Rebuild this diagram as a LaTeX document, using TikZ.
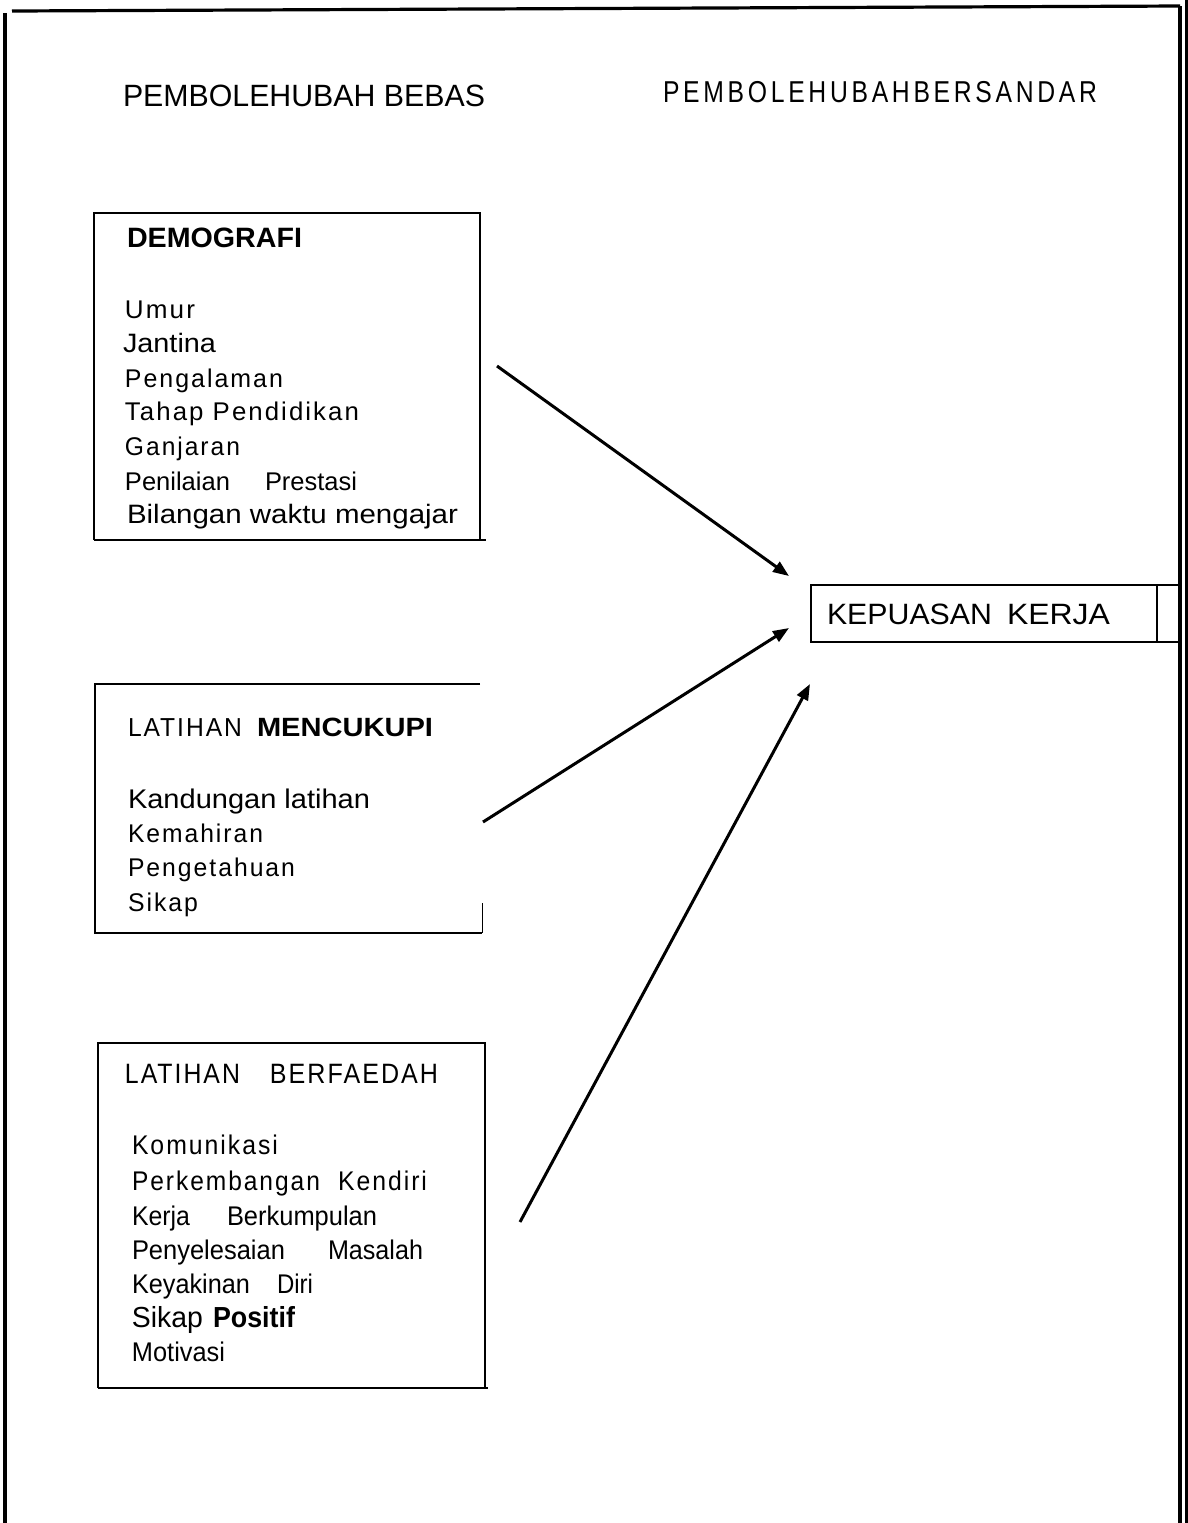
\documentclass[tikz,border=0pt]{standalone}
\usepackage{fontspec}
\usepackage{graphicx}
\setmainfont{Liberation Sans}
\newfontfamily\lsfont{Liberation Sans}[LetterSpace=8]
\newfontfamily\lsfontB{Liberation Sans}[LetterSpace=15]
\usetikzlibrary{arrows.meta}
\newlength\pxu
\setlength\pxu{0.5pt}
\newcommand\fw[2]{\resizebox{#1\pxu}{\height}{#2}}
\newcommand\fs[1]{\fontsize{#1}{#1}\selectfont}
\tikzset{
  txt/.style={anchor=base west, inner sep=0pt, outer sep=0pt},
  border/.style={line width=1.6pt},
  boxline/.style={line width=1.15pt},
  conn/.style={line width=1.5pt, -{Triangle[length=8pt,width=6pt]}}
}
\begin{document}
\begin{tikzpicture}[x=0.5pt,y=-0.5pt]
\useasboundingbox (0,0) rectangle (1188,1523);
% page border
\draw[border] (12,11) -- (1180,6);
\draw[border] (5,13) -- (5,1523);
\draw[border] (1180,6) -- (1180,1523);
\draw[line width=1.2pt] (1186.5,0) -- (1186.5,1523);

% headers
\node[txt] (h1) at (123,106) {\fs{15.4}\fw{362}{PEMBOLEHUBAH BEBAS}};
\node[txt] (h2) at (663,102) {\fs{15.1}\fw{434}{\lsfontB PEMBOLEHUBAHBERSANDAR}};

% box 1
\draw[boxline] (94,540) -- (94,213) -- (480,213) -- (480,540);
\draw[boxline] (94,540) -- (486,540);
\node[txt] (d0) at (127,247) {\fs{14}\bfseries\fw{175}{DEMOGRAFI}};
\node[txt] (d1) at (125,318) {\fs{12.8}\fw{70}{\lsfont Umur}};
\node[txt] (d2) at (123,352) {\fs{13.3}\fw{93}{Jantina}};
\node[txt] (d3) at (125,387) {\fs{12.8}\fw{158}{\lsfont Pengalaman}};
\node[txt] (d4) at (125,420) {\fs{12.8}\fw{234}{\lsfont Tahap Pendidikan}};
\node[txt] (d5) at (125,455) {\fs{12.8}\fw{115}{\lsfont Ganjaran}};
\node[txt] (d6) at (125,490) {\fs{12.8}\fw{105}{Penilaian}\hspace{35\pxu}\fw{92}{Prestasi}};
\node[txt] (d7) at (127,523) {\fs{13.3}\fw{331}{Bilangan waktu mengajar}};

% box 2
\draw[boxline] (480,684) -- (95,684) -- (95,933) -- (482,933);
\draw[line width=0.5pt] (482,903) -- (482,933);
\node[txt] (c0) at (128,736) {\fs{13}\fw{114}{\lsfont LATIHAN}\hspace{15\pxu}{\fs{13.2}\bfseries\fw{176}{MENCUKUPI}}};
\node[txt] (c1) at (128,808) {\fs{13.5}\fw{242}{Kandungan latihan}};
\node[txt] (c2) at (128,842) {\fs{12.8}\fw{135}{\lsfont Kemahiran}};
\node[txt] (c3) at (128,876) {\fs{12.8}\fw{167}{\lsfont Pengetahuan}};
\node[txt] (c4) at (128,911) {\fs{12.8}\fw{70}{\lsfont Sikap}};

% box 3
\draw[boxline] (98,1388) -- (98,1043) -- (485,1043) -- (485,1388);
\draw[boxline] (98,1388) -- (488,1388);
\node[txt] (f0) at (125,1083) {\fs{14}\fw{115}{\lsfont LATIHAN}\hspace{30\pxu}\fw{168}{\lsfont BERFAEDAH}};
\node[txt] (f1) at (132,1154) {\fs{13.5}\fw{146}{\lsfont Komunikasi}};
\node[txt] (f2) at (132,1190) {\fs{13.5}\fw{188}{\lsfont Perkembangan}\hspace{18\pxu}\fw{89}{\lsfont Kendiri}};
\node[txt] (f3) at (132,1225) {\fs{13.5}\fw{58}{Kerja}\hspace{37\pxu}\fw{150}{Berkumpulan}};
\node[txt] (f4) at (132,1259) {\fs{13.5}\fw{153}{Penyelesaian}\hspace{43\pxu}\fw{95}{Masalah}};
\node[txt] (f5) at (132,1293) {\fs{13.5}\fw{118}{Keyakinan}\hspace{27\pxu}\fw{36}{Diri}};
\node[txt] (f6) at (132,1327) {\fs{14.5}\fw{71}{Sikap}\hspace{10\pxu}{\bfseries\fw{82}{Positif}}};
\node[txt] (f7) at (132,1361) {\fs{13.5}\fw{93}{Motivasi}};

% dependent variable box
\node[draw, boxline, anchor=north west, inner sep=0pt, minimum width=185pt, minimum height=28.5pt] (kk) at (810,584) {};
\draw[boxline] (1157,584) -- (1157,641);
\node[txt] (kkt) at (827,624) {\fs{14.7}\fw{165}{KEPUASAN}\hspace{15\pxu}\fw{103}{KERJA}};

% connectors
\coordinate (a1s) at (497,366);
\coordinate (a1e) at (789,576);
\coordinate (a2s) at (483,822);
\coordinate (a2e) at (789,628);
\coordinate (a3s) at (520,1222);
\coordinate (a3e) at (810,684);
\draw[conn] (a1s) -- (a1e);
\draw[conn] (a2s) -- (a2e);
\draw[conn] (a3s) -- (a3e);
\end{tikzpicture}
\end{document}
